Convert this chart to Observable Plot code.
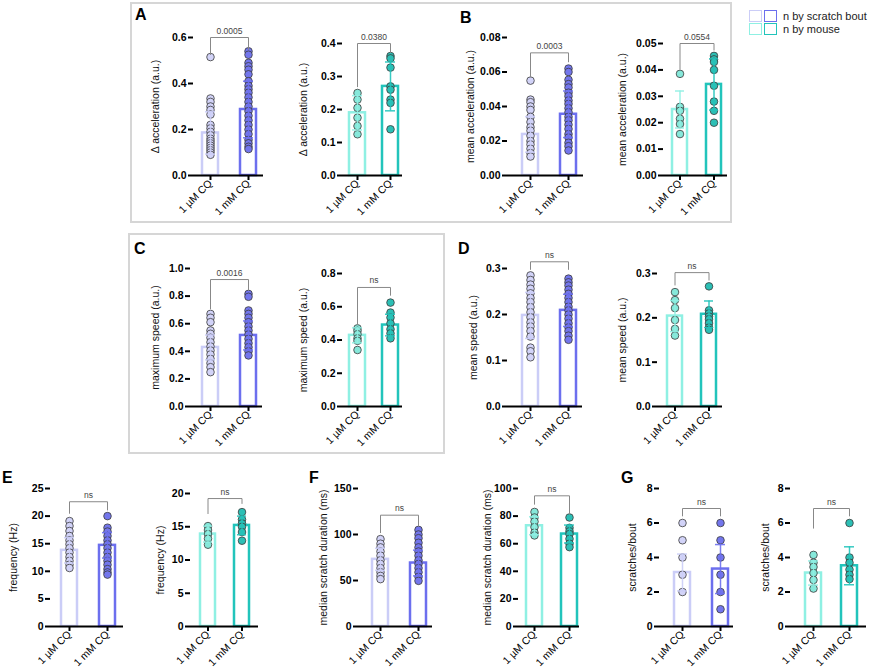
<!DOCTYPE html>
<html><head><meta charset="utf-8">
<script src="https://cdn.jsdelivr.net/npm/d3@7"></script>
<script src="https://cdn.jsdelivr.net/npm/@observablehq/plot@0.6"></script>
<style>
body{margin:0;background:#fff;font-family:"Liberation Sans",Arial,sans-serif;}
#wrap{position:relative;width:870px;height:669px;overflow:hidden;background:#fff;}
#wrap svg{position:absolute;overflow:visible;background:transparent;max-width:none;}
.letter{position:absolute;font-weight:bold;font-size:16px;line-height:16px;color:#000;}
.box{position:absolute;border:2px solid #d6d6d6;box-sizing:border-box;}
.lg{position:absolute;box-sizing:border-box;width:13px;height:12px;border:1.5px solid;background:#fff;}
.lgt{position:absolute;font-size:11px;line-height:12px;color:#222;}
</style></head><body><div id="wrap"></div><script>
const categories = ["1 µM CQ", "1 mM CQ"];

// A — Δ acceleration
const A1_uM = [0.515, 0.335, 0.32, 0.30, 0.285, 0.265, 0.22, 0.205, 0.19, 0.175, 0.16, 0.15, 0.14, 0.13, 0.12, 0.11, 0.10, 0.09];
const A1_mM = [0.54, 0.525, 0.49, 0.475, 0.46, 0.44, 0.41, 0.39, 0.375, 0.36, 0.34, 0.32, 0.30, 0.28, 0.26, 0.24, 0.22, 0.20, 0.18, 0.155, 0.14, 0.125, 0.115];
const A1_mean = [0.185, 0.287], A1_sd = [0.092, 0.123];
const A2_uM = [0.25, 0.23, 0.205, 0.175, 0.15, 0.125];
const A2_mM = [0.362, 0.355, 0.327, 0.27, 0.26, 0.23, 0.22, 0.14];
const A2_mean = [0.19, 0.27], A2_sd = [0.052, 0.074];
// B — mean acceleration
const B1_uM = [0.055, 0.044, 0.0425, 0.040, 0.038, 0.034, 0.031, 0.028, 0.026, 0.023, 0.020, 0.018, 0.0155, 0.013, 0.011];
const B1_mM = [0.062, 0.060, 0.0555, 0.053, 0.051, 0.048, 0.046, 0.0435, 0.0415, 0.039, 0.0367, 0.034, 0.032, 0.0295, 0.027, 0.024, 0.022, 0.019, 0.017, 0.0145];
const B1_mean = [0.0238, 0.0355], B1_sd = [0.0103, 0.0135];
const B2_uM = [0.0385, 0.026, 0.0245, 0.0215, 0.0195, 0.0157];
const B2_mM = [0.0453, 0.044, 0.043, 0.040, 0.034, 0.028, 0.0245, 0.020];
const B2_mean = [0.025, 0.0345], B2_sd = [0.007, 0.0097];
// C — maximum speed
const C1_uM = [0.671, 0.643, 0.611, 0.551, 0.527, 0.498, 0.466, 0.435, 0.406, 0.377, 0.345, 0.314, 0.285, 0.249];
const C1_mM = [0.816, 0.795, 0.696, 0.671, 0.643, 0.611, 0.58, 0.551, 0.522, 0.49, 0.459, 0.43, 0.40, 0.37];
const C1_mean = [0.428, 0.515], C1_sd = [0.09, 0.105];
const C2_uM = [0.47, 0.455, 0.435, 0.41, 0.395, 0.34];
const C2_mM = [0.625, 0.565, 0.535, 0.50, 0.465, 0.44, 0.41];
const C2_mean = [0.428, 0.49], C2_sd = [0.045, 0.065];
// D — mean speed
const D1_uM = [0.285, 0.275, 0.265, 0.256, 0.246, 0.236, 0.227, 0.216, 0.205, 0.194, 0.183, 0.174, 0.164, 0.152, 0.128, 0.12, 0.107];
const D1_mM = [0.278, 0.27, 0.263, 0.254, 0.245, 0.236, 0.227, 0.217, 0.209, 0.2, 0.191, 0.181, 0.172, 0.164, 0.154, 0.145];
const D1_mean = [0.198, 0.209], D1_sd = [0.05, 0.035];
const D2_uM = [0.258, 0.24, 0.222, 0.195, 0.175, 0.16];
const D2_mM = [0.271, 0.217, 0.21, 0.203, 0.197, 0.188, 0.178, 0.173];
const D2_mean = [0.204, 0.208], D2_sd = [0.035, 0.03];
// E — frequency
const E1_uM = [19.1, 18.2, 17.3, 16.4, 15.6, 14.9, 14.2, 13.4, 12.6, 11.9, 11.2, 10.6];
const E1_mM = [20.0, 17.9, 17.2, 16.4, 15.6, 14.9, 14.2, 13.4, 12.6, 11.9, 11.2, 10.4, 9.8, 9.4];
const E1_mean = [13.8, 14.7], E1_sd = [2.3, 2.3];
const E2_uM = [15.1, 14.5, 13.9, 13.2, 12.3];
const E2_mM = [17.2, 16.1, 15.5, 15.0, 14.2, 12.9];
const E2_mean = [13.9, 15.2], E2_sd = [1.2, 1.4];
// F — median scratch duration
const F1_uM = [95, 90, 86, 81.5, 77, 72, 68, 63.5, 59, 55, 51.5];
const F1_mM = [105, 100, 96, 91, 86, 81.5, 77, 72, 68, 63.5, 59, 54, 49.6];
const F1_mean = [73, 69], F1_sd = [12, 14];
const F2_uM = [83, 79, 76, 72, 68, 66];
const F2_mM = [79, 71.5, 69, 67, 63.5, 60, 57.5];
const F2_mean = [73, 67], F2_sd = [6.5, 6.5];
// G — scratches/bout
const G1_uM = [6, 5, 4, 3, 2];
const G1_mM = [6, 5, 4, 3, 2, 1];
const G1_mean = [3.13, 3.33], G1_sd = [1.07, 1.42];
const G2_uM = [4.15, 3.7, 3.45, 3.1, 2.7, 2.2];
const G2_mM = [6, 4, 3.7, 3.3, 3.0, 2.75];
const G2_mean = [3.1, 3.52], G2_sd = [0.7, 1.1];

// tick values
const ticksA1 = [0, 0.2, 0.4, 0.6], ticksA2 = [0, 0.1, 0.2, 0.3, 0.4];
const ticksB1 = [0, 0.02, 0.04, 0.06, 0.08], ticksB2 = [0, 0.01, 0.02, 0.03, 0.04, 0.05];
const ticksC1 = [0, 0.2, 0.4, 0.6, 0.8, 1.0], ticksC2 = [0, 0.2, 0.4, 0.6, 0.8];
const ticksD = [0, 0.1, 0.2, 0.3];
const ticksE1 = [0, 5, 10, 15, 20, 25], ticksE2 = [0, 5, 10, 15, 20];
const ticksF1 = [0, 50, 100, 150], ticksF2 = [0, 20, 40, 60, 80, 100];
const ticksG = [0, 2, 4, 6, 8];

const yLabels = {A: "Δ acceleration (a.u.)", B: "mean acceleration (a.u.)", C: "maximum speed (a.u.)", D: "mean speed (a.u.)", E: "frequency (Hz)", F: "median scratch duration (ms)", G: "scratches/bout"};
const pLabels = {A1: "0.0005", A2: "0.0380", B1: "0.0003", B2: "0.0554", C1: "0.0016", C2: "ns", D1: "ns", D2: "ns", E1: "ns", E2: "ns", F1: "ns", F2: "ns", G1: "ns", G2: "ns"};
const legendLabels = ["n by scratch bout", "n by mouse"];

// styles
const colors = {
  bout: {bar: ["#cbcdf7", "#6c6fee"], dot: ["#d2d3f8", "#7376ec"]},
  mouse: {bar: ["#8ff0e3", "#22c4bb"], dot: ["#86e8da", "#2cbfb5"]}
};

const layout = [
 {key:"A1", kind:"bout", ax:193, xEnd:263, yTop:37, y0:175, c1:210, c2:248, ymax:0.6, ticks:ticksA1, fmt:".1f", lo:38, br:[0.6,0.526,0.548], d:[A1_uM,A1_mM,A1_mean,A1_sd]},
 {key:"A2", kind:"mouse", ax:342, xEnd:402, yTop:43, y0:175, c1:357, c2:390, ymax:0.4, ticks:ticksA2, fmt:".1f", lo:39, br:[0.4,0.269,0.373], d:[A2_uM,A2_mM,A2_mean,A2_sd]},
 {key:"B1", kind:"bout", ax:507, xEnd:583, yTop:37, y0:175, c1:530, c2:568, ymax:0.08, ticks:ticksB1, fmt:".2f", lo:37, br:[0.0711,0.0571,0.0659], d:[B1_uM,B1_mM,B1_mean,B1_sd]},
 {key:"B2", kind:"mouse", ax:663, xEnd:727, yTop:43, y0:175, c1:680, c2:714, ymax:0.05, ticks:ticksB2, fmt:".2f", lo:41, br:[0.05,0.0403,0.0475], d:[B2_uM,B2_mM,B2_mean,B2_sd]},
 {key:"C1", kind:"bout", ax:190, xEnd:262, yTop:268, y0:406, c1:210, c2:248, ymax:1.0, ticks:ticksC1, fmt:".1f", lo:35, br:[0.92,0.709,0.842], d:[C1_uM,C1_mM,C1_mean,C1_sd]},
 {key:"C2", kind:"mouse", ax:342, xEnd:402, yTop:273, y0:406, c1:357, c2:390, ymax:0.8, ticks:ticksC2, fmt:".1f", lo:39, br:[0.716,0.492,0.669], d:[C2_uM,C2_mM,C2_mean,C2_sd]},
 {key:"D1", kind:"bout", ax:507, xEnd:582, yTop:268, y0:406, c1:530, c2:568, ymax:0.3, ticks:ticksD, fmt:".1f", lo:34, br:[0.3146,0.298,0.298], d:[D1_uM,D1_mM,D1_mean,D1_sd]},
 {key:"D2", kind:"mouse", ax:657, xEnd:722, yTop:273, y0:406, c1:675, c2:709, ymax:0.3, ticks:ticksD, fmt:".1f", lo:35, br:[0.302,0.274,0.285], d:[D2_uM,D2_mM,D2_mean,D2_sd]},
 {key:"E1", kind:"bout", ax:50, xEnd:123, yTop:488, y0:626, c1:69, c2:107, ymax:25, ticks:ticksE1, fmt:"d", lo:37, br:[22.6,20.5,21.1], d:[E1_uM,E1_mM,E1_mean,E1_sd]},
 {key:"E2", kind:"mouse", ax:190, xEnd:258, yTop:493, y0:626, c1:208, c2:242, ymax:20, ticks:ticksE2, fmt:"d", lo:30, br:[19.24,16.98,18.5], d:[E2_uM,E2_mM,E2_mean,E2_sd]},
 {key:"F1", kind:"bout", ax:358, xEnd:432, yTop:488, y0:626, c1:380, c2:418, ymax:150, ticks:ticksF1, fmt:"d", lo:35, br:[121,102,109], d:[F1_uM,F1_mM,F1_mean,F1_sd]},
 {key:"F2", kind:"mouse", ax:518, xEnd:579, yTop:488, y0:626, c1:534, c2:569, ymax:100, ticks:ticksF2, fmt:"d", lo:31, br:[94.7,88.6,81.4], d:[F2_uM,F2_mM,F2_mean,F2_sd]},
 {key:"G1", kind:"bout", ax:659, xEnd:733, yTop:488, y0:626, c1:682, c2:720, ymax:8, ticks:ticksG, fmt:"d", lo:27, br:[6.84,6.41,6.41], d:[G1_uM,G1_mM,G1_mean,G1_sd]},
 {key:"G2", kind:"mouse", ax:790, xEnd:866, yTop:488, y0:626, c1:813, c2:849, ymax:8, ticks:ticksG, fmt:"d", lo:25, br:[6.84,5.7,6.41], d:[G2_uM,G2_mM,G2_mean,G2_sd]}
];

const wrap = document.getElementById("wrap");
const FONT = "'Liberation Sans', Arial, sans-serif";

function panel(cfg) {
  const mL = 60, mR = 4, mT = 30, mB = 62;
  const w = mL + (cfg.xEnd - cfg.ax) + mR;
  const h = mT + (cfg.y0 - cfg.yTop) + mB;
  const L = cfg.ax - mL, T = cfg.yTop - mT;
  const c1 = cfg.c1 - L, D = cfg.c2 - cfg.c1, bw = 15.5, p = 1 - bw / D;
  const r0 = c1 - D * (1 + p) / 2, r1 = r0 + D * (2 + p);
  const [uM, mM, mean, sd] = cfg.d;
  const col = colors[cfg.kind];
  const bars = categories.map((c, i) => ({cat: c, mean: mean[i], sd: sd[i]}));
  const pts = [uM, mM].map((arr, i) => arr.map(v => ({cat: categories[i], v})));
  const bracket = [
    {cat: categories[0], y: cfg.br[1]}, {cat: categories[0], y: cfg.br[0]},
    {cat: categories[1], y: cfg.br[0]}, {cat: categories[1], y: cfg.br[2]}
  ];
  const marks = [];
  [0, 1].forEach(i => marks.push(Plot.barY([bars[i]], {x: "cat", y: "mean", fill: "white", stroke: col.bar[i], strokeWidth: 2.5})));
  [0, 1].forEach(i => marks.push(Plot.dot(pts[i], {x: "cat", y: "v", r: 3.8, fill: col.dot[i], stroke: "#3a3a3a", strokeWidth: 0.8})));
  [0, 1].forEach(i => {
    const b = [bars[i]];
    marks.push(Plot.ruleX(b, {x: "cat", y1: d => d.mean - d.sd, y2: d => d.mean + d.sd, stroke: col.bar[i], strokeWidth: 1.5, strokeOpacity: 0.9}));
    marks.push(Plot.tickY(b, {x: "cat", y: d => d.mean + d.sd, stroke: col.bar[i], strokeWidth: 1.5, insetLeft: 3, insetRight: 3, strokeOpacity: 0.9}));
    marks.push(Plot.tickY(b, {x: "cat", y: d => d.mean - d.sd, stroke: col.bar[i], strokeWidth: 1.5, insetLeft: 3, insetRight: 3, strokeOpacity: 0.9}));
  });
  marks.push(Plot.line(bracket, {x: "cat", y: "y", stroke: "#888", strokeWidth: 1}));
  marks.push(Plot.text([pLabels[cfg.key]], {x: () => categories[0], y: () => cfg.br[0], text: d => d, dx: D / 2, dy: -4, lineAnchor: "bottom", fontSize: 8.5, fill: "#444"}));
  marks.push(Plot.axisY({ticks: cfg.ticks, tickFormat: d3.format(cfg.fmt), tickSize: 5, tickPadding: 2, strokeWidth: 2, fontSize: 10.5, fontWeight: "bold", label: null, line: true}));
  marks.push(Plot.axisX({tickSize: 5, tickPadding: 1, strokeWidth: 2, tickRotate: -45, fontSize: 10.5, label: null}));
  marks.push(Plot.ruleY([0], {stroke: "black", strokeWidth: 2}));
  marks.push(Plot.text([yLabels[cfg.key[0]]], {frameAnchor: "left", textAnchor: "middle", lineAnchor: "middle", rotate: -90, dx: -cfg.lo, text: d => d, fontSize: 10.5, fill: "#111"}));
  const svg = Plot.plot({
    width: w, height: h, marginLeft: mL, marginRight: mR, marginTop: mT, marginBottom: mB,
    style: {fontFamily: FONT, background: "transparent", overflow: "visible", color: "#000"},
    x: {type: "band", domain: categories, range: [r0, r1], paddingInner: p, paddingOuter: p, axis: null},
    y: {domain: [0, cfg.ymax], axis: null},
    marks
  });
  svg.style.left = L + "px";
  svg.style.top = T + "px";
  wrap.appendChild(svg);
}
layout.forEach(panel);

function addDiv(cls, css, text) {
  const d = document.createElement("div");
  d.className = cls;
  Object.assign(d.style, css);
  if (text) d.textContent = text;
  wrap.appendChild(d);
}
// boxes
addDiv("box", {left: "130px", top: "2px", width: "602px", height: "221px"});
addDiv("box", {left: "128px", top: "233px", width: "317px", height: "221px"});
// panel letters
[["A", 135, 7], ["B", 460, 10], ["C", 134, 241], ["D", 458, 241], ["E", 2, 470], ["F", 309, 470], ["G", 621, 470]]
  .forEach(([t, x, y]) => addDiv("letter", {left: x + "px", top: y + "px"}, t));
// legend
addDiv("lg", {left: "749px", top: "10px", borderColor: colors.bout.bar[0]});
addDiv("lg", {left: "764px", top: "10px", borderColor: colors.bout.bar[1]});
addDiv("lg", {left: "749px", top: "23px", borderColor: colors.mouse.bar[0]});
addDiv("lg", {left: "764px", top: "23px", borderColor: colors.mouse.bar[1]});
addDiv("lgt", {left: "783px", top: "10px"}, legendLabels[0]);
addDiv("lgt", {left: "783px", top: "23px"}, legendLabels[1]);
</script></body></html>
